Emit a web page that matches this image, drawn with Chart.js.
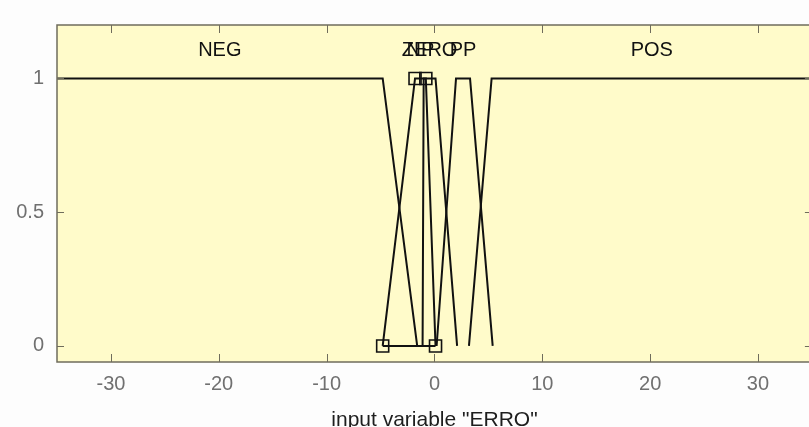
<!DOCTYPE html>
<html><head><meta charset="utf-8">
<style>
html,body{margin:0;padding:0;overflow:hidden;background:#fdfdfd;width:809px;height:427px}
canvas{display:block}
</style>
<script src="https://cdn.jsdelivr.net/npm/chart.js@4.4.1/dist/chart.umd.min.js"></script>
</head><body>
<canvas id="c" width="822" height="427"></canvas>
<script>
// ---- data ----
const xTicks = [-30, -20, -10, 0, 10, 20, 30];
const yTicks = [0, 0.5, 1];
const yTickLabels = ['0', '0.5', '1'];
const mfNames = ['NEG', 'NP', 'ZERO', 'PP', 'POS'];
const negX  = [-35, -4.8, -1.6],        negY  = [1, 1, 0];
const npX   = [-4.8, -1.8, -0.8, 0.1],  npY   = [0, 1, 1, 0];
const zeroX = [-1.1, -1.0, 0.1, 2.1],   zeroY = [0, 1, 1, 0];
const ppX   = [0.2, 2.0, 3.3, 5.4],     ppY   = [0, 1, 1, 0];
const posX  = [3.2, 5.3, 35],           posY  = [0, 1, 1];
const selectedIndex = 1;               // MF shown with square handles
const axisTitle = 'input variable "ERRO"';
const xRange = [-35, 35];
const yRange = [-0.06, 1.2];

// ---- build ----
const mfX = [negX, npX, zeroX, ppX, posX];
const mfY = [negY, npY, zeroY, ppY, posY];
const zip = (xs, ys) => xs.map((x, i) => ({x: x, y: ys[i]}));

const FONT = "'Liberation Sans', Arial, sans-serif";
const FRAME = '#6f6c5c';

const datasets = mfX.map((xs, i) => ({
  label: mfNames[i],
  data: zip(xs, mfY[i]),
  showLine: true,
  borderColor: '#111',
  borderWidth: 2,
  pointRadius: 0,
  fill: false
}));
const selX = mfX[selectedIndex], selY = mfY[selectedIndex];
datasets.push({
  label: mfNames[selectedIndex] + ' base',
  data: zip([selX[0], selX[selX.length - 1]], [0, 0]),
  showLine: true, borderColor: '#111', borderWidth: 2, pointRadius: 0
});
datasets.push({
  label: mfNames[selectedIndex] + ' handles',
  data: zip(selX, selY),
  showLine: false,
  pointStyle: 'rect',
  pointRadius: 8.5,
  pointBorderColor: '#111',
  pointBorderWidth: 1.6,
  pointBackgroundColor: 'rgba(0,0,0,0)'
});

const decor = {
  id: 'decor',
  beforeDraw(chart) {
    const {ctx, chartArea: a} = chart;
    ctx.save();
    ctx.fillStyle = '#fdfdfd';
    ctx.fillRect(0, 0, chart.width, chart.height);
    ctx.fillStyle = '#fffbca';
    ctx.fillRect(a.left, a.top, a.right - a.left, a.bottom - a.top);
    ctx.restore();
  },
  afterDraw(chart) {
    const {ctx, chartArea: a, scales} = chart;
    ctx.save();
    ctx.strokeStyle = FRAME;
    ctx.lineWidth = 1.5;
    ctx.strokeRect(a.left, a.top, a.right - a.left, a.bottom - a.top);
    ctx.beginPath();
    xTicks.forEach(v => {
      const px = Math.round(scales.x.getPixelForValue(v)) + 0.5;
      ctx.moveTo(px, a.bottom); ctx.lineTo(px, a.bottom - 8);
      ctx.moveTo(px, a.top); ctx.lineTo(px, a.top + 8);
    });
    yTicks.forEach(v => {
      const py = Math.round(scales.y.getPixelForValue(v)) + 0.5;
      ctx.moveTo(a.left, py); ctx.lineTo(a.left + 7, py);
      ctx.moveTo(a.right, py); ctx.lineTo(a.right - 7, py);
    });
    ctx.lineWidth = 1;
    ctx.stroke();
    // MF names at plateau centres
    ctx.fillStyle = '#111';
    ctx.font = '20px ' + FONT;
    ctx.textAlign = 'center';
    ctx.textBaseline = 'middle';
    mfX.forEach((xs, i) => {
      const top = xs.filter((x, j) => mfY[i][j] === 1);
      const cx = (Math.min(...top) + Math.max(...top)) / 2;
      ctx.fillText(mfNames[i], scales.x.getPixelForValue(cx), scales.y.getPixelForValue(1.105));
    });
    ctx.restore();
  }
};

new Chart(document.getElementById('c'), {
  type: 'scatter',
  data: {datasets},
  options: {
    responsive: false,
    animation: false,
    events: [],
    layout: {padding: {top: 19, left: 0, right: 8, bottom: 0}},
    plugins: {legend: {display: false}, tooltip: {enabled: false}},
    scales: {
      x: {
        type: 'linear', min: xRange[0], max: xRange[1],
        afterBuildTicks: s => { s.ticks = xTicks.map(v => ({value: v})); },
        afterFit: s => { s.height = 65; },
        grid: {display: false, drawTicks: false},
        border: {display: false},
        ticks: {color: '#707070', font: {family: FONT, size: 20}, padding: 10, maxRotation: 0,
                callback: v => String(v)},
        title: {display: true, text: axisTitle, color: '#1e1e1e',
                font: {family: FONT, size: 21, lineHeight: 0.6}, padding: {top: 0, bottom: 0}}
      },
      y: {
        type: 'linear', min: yRange[0], max: yRange[1],
        afterBuildTicks: s => { s.ticks = yTicks.map(v => ({value: v})); },
        afterFit: s => { s.width = 57; },
        grid: {display: false, drawTicks: false},
        border: {display: false},
        ticks: {color: '#707070', font: {family: FONT, size: 20}, padding: 13,
                callback: v => yTickLabels[yTicks.indexOf(v)] ?? ''}
      }
    }
  },
  plugins: [decor]
});
</script>
</body></html>
